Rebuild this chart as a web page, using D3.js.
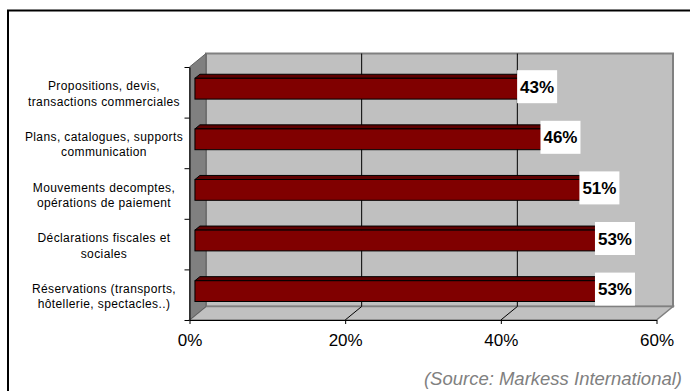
<!DOCTYPE html>
<html>
<head>
    <title>Usages - barres 3D</title>
    <meta charset="UTF-8">
    <script src="https://cdn.jsdelivr.net/npm/d3@7"></script>
    <style>
        body { margin: 0; background: #fff; }
        text { font-family: "Liberation Sans", Arial, sans-serif; }
    </style>
</head>
<body>
    <svg id="chart"></svg>
    <script>

        // data (top to bottom)
        const categories = [
            "Propositions, devis,|transactions commerciales",
            "Plans, catalogues, supports|communication",
            "Mouvements decomptes,|opérations de paiement",
            "Déclarations fiscales et|sociales",
            "Réservations (transports,|hôtellerie, spectacles..)"
        ];
        const values = [43, 46, 51, 53, 53];
        const xTicks = [0, 20, 40, 60];
        const source = "(Source: Markess International)";

        const width = 690, height = 391;

        // oblique depth of the 3D box
        const DX = 16.5, DY = -13.5;
        const barDepthStart = 0.33, barDepth = 0.3;

        const svg = d3.select("#chart")
            .attr("width", width)
            .attr("height", height);

        // frame
        svg.append("rect")
            .attr("x", 8).attr("y", 10.5)
            .attr("width", 700).attr("height", 400)
            .attr("fill", "none")
            .attr("stroke", "#000")
            .attr("stroke-width", 2);

        const x = d3.scaleLinear().domain([0, 60]).range([189.5, 656.5]);
        const y = d3.scaleBand().domain(categories).range([67, 320]);
        const yTop = 67, yBot = 320;

        // back wall
        svg.append("rect")
            .attr("x", x(0) + DX).attr("y", yTop + DY)
            .attr("width", x(60) - x(0)).attr("height", yBot - yTop)
            .attr("fill", "#c0c0c0")
            .attr("stroke", "#808080")
            .attr("stroke-width", 2);

        // floor
        svg.append("polygon")
            .attr("points", [[x(0), yBot], [x(60), yBot], [x(60) + DX, yBot + DY], [x(0) + DX, yBot + DY]].join(" "))
            .attr("fill", "#c0c0c0")
            .attr("stroke", "#808080")
            .attr("stroke-width", 1.5);

        // side wall
        svg.append("polygon")
            .attr("points", [[x(0), yTop], [x(0) + DX, yTop + DY], [x(0) + DX, yBot + DY], [x(0), yBot]].join(" "))
            .attr("fill", "#808080")
            .attr("stroke", "#606060")
            .attr("stroke-width", 1);

        // gridlines on wall and floor
        const grid = xTicks.filter(d => d > 0 && d < 60);
        svg.selectAll(".gridWall")
            .data(grid)
            .join("line")
            .attr("x1", d => x(d) + DX).attr("x2", d => x(d) + DX)
            .attr("y1", yTop + DY).attr("y2", yBot + DY)
            .attr("stroke", "#000").attr("stroke-width", 1);
        svg.selectAll(".gridFloor")
            .data(grid)
            .join("line")
            .attr("x1", d => x(d)).attr("x2", d => x(d) + DX)
            .attr("y1", yBot).attr("y2", yBot + DY)
            .attr("stroke", "#000").attr("stroke-width", 1);

        // bars
        const bx = d => x(d) + barDepthStart * DX;
        const barH = 20.8;
        const barTop = c => y(c) + y.bandwidth() / 2 - 14;
        const bars = svg.selectAll(".bar")
            .data(categories.map((c, i) => ({ c: c, v: values[i] })))
            .join("g");

        bars.append("polygon")
            .attr("points", d => {
                const t = barTop(d.c);
                return [[bx(0), t], [bx(d.v), t], [bx(d.v) + barDepth * DX, t + barDepth * DY], [bx(0) + barDepth * DX, t + barDepth * DY]].join(" ");
            })
            .attr("fill", "#5e0000")
            .attr("stroke", "#000")
            .attr("stroke-width", 1);

        bars.append("rect")
            .attr("x", bx(0))
            .attr("y", d => barTop(d.c))
            .attr("width", d => bx(d.v) - bx(0))
            .attr("height", barH)
            .attr("fill", "#800000")
            .attr("stroke", "#000")
            .attr("stroke-width", 1);

        // value labels
        bars.append("rect")
            .attr("x", d => bx(d.v) - 12.5)
            .attr("y", d => barTop(d.c) + barH / 2 - 2 - 16.5)
            .attr("width", 40)
            .attr("height", 33)
            .attr("fill", "#fff");

        bars.append("text")
            .attr("x", d => bx(d.v) - 12.5 + 20)
            .attr("y", d => barTop(d.c) + barH / 2 - 2)
            .attr("dy", "0.36em")
            .attr("text-anchor", "middle")
            .style("font-size", "17px")
            .style("font-weight", "bold")
            .text(d => d.v + "%");

        // category axis (ticks at band edges)
        const yEdges = d3.scaleLinear().domain([0, categories.length]).range([yTop, yBot]);
        svg.append("g")
            .attr("transform", `translate(${x(0)},0)`)
            .call(d3.axisLeft(yEdges).ticks(categories.length).tickSize(5).tickSizeOuter(0).tickFormat(""))
            .call(g => g.selectAll("path,line").attr("stroke", "#000"));

        svg.selectAll(".cat")
            .data(categories)
            .join("text")
            .attr("text-anchor", "middle")
            .style("font-size", "12px")
            .style("letter-spacing", "0.4px")
            .attr("fill", "#000")
            .each(function (c) {
                const lines = c.split("|");
                const cy = y(c) + y.bandwidth() / 2 + 1.5;
                d3.select(this).selectAll("tspan")
                    .data(lines)
                    .join("tspan")
                    .attr("x", 104)
                    .attr("y", (l, i) => cy + (i - (lines.length - 1) / 2) * 15.5)
                    .attr("dy", "0.36em")
                    .text(l => l);
            });

        // value axis
        svg.append("g")
            .attr("transform", `translate(0,${yBot})`)
            .call(d3.axisBottom(x).tickValues(xTicks).tickFormat(d => d + "%").tickSize(4).tickSizeOuter(0).tickPadding(10))
            .call(g => g.selectAll("path,line").attr("stroke", "#000"))
            .call(g => g.selectAll("text")
                .style("font-family", "'Liberation Sans', Arial, sans-serif")
                .style("font-size", "17px")
                .attr("fill", "#000"));

        // source
        svg.append("text")
            .attr("x", 682)
            .attr("y", 385)
            .attr("text-anchor", "end")
            .style("font-size", "18.5px")
            .style("font-style", "italic")
            .attr("fill", "#808080")
            .text(source);

    </script>
</body>
</html>
